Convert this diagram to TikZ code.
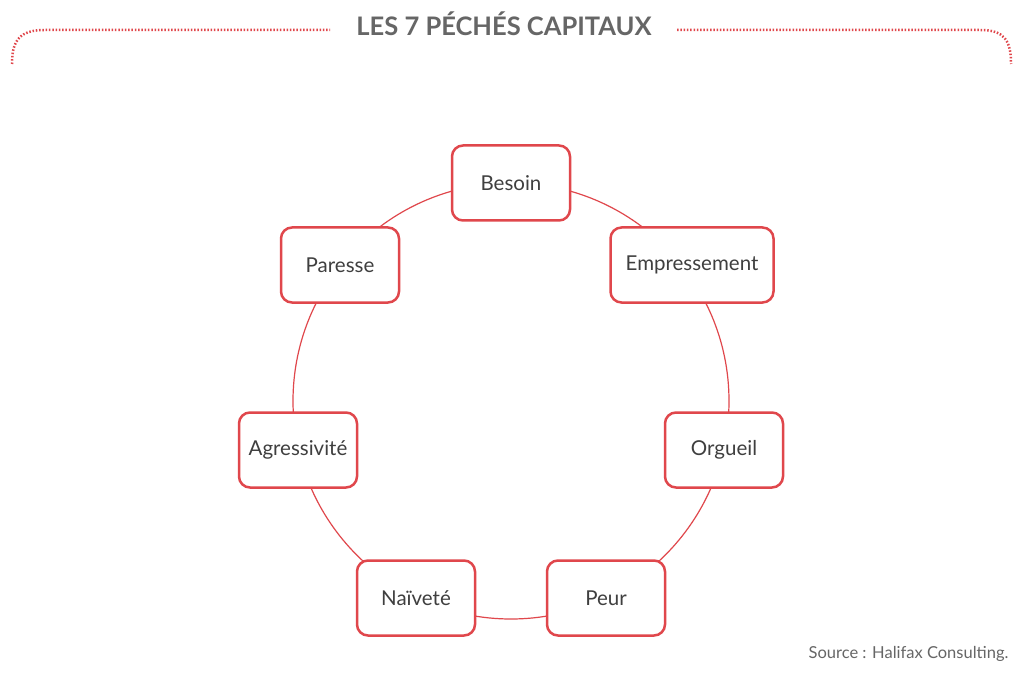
\documentclass[tikz,border=0pt]{standalone}
\usepackage{fontspec}
\setmainfont{Lato}
\begin{document}
\begin{tikzpicture}[x=1pt,y=-1pt,
  sin/.style={draw=red1,line width=2.5pt,rounded corners=11pt,fill=white,minimum height=75pt,minimum width=118pt,text=txt,font=\fontsize{20.5}{24}\selectfont},
  dots/.style={draw=red1,line width=2.5pt,dash pattern=on 1.5pt off 1.8pt}]
\definecolor{red1}{HTML}{E0474C}
\definecolor{txt}{HTML}{3F3F3F}
\definecolor{ttl}{HTML}{666666}
\useasboundingbox (0,0) rectangle (1024,684);
\fill[white] (0,0) rectangle (1024,684);
\node[font=\bfseries\fontsize{25.5}{30}\selectfont,text=ttl] (title) at (504,24) {LES 7 PÉCHÉS CAPITAUX};
\draw[dots] (12,64) .. controls (12,40) and (20,30) .. (45,30) -- (330,30);
\draw[dots] (677,30) -- (980,30) .. controls (1004,30) and (1011,40) .. (1011,64);
\draw[red1,line width=1.2pt] (511,401) circle (218);
\node[sin] (besoin) at (511,183) {Besoin};
\node[sin,minimum width=163pt] (emp) at (692,265) {Empressement};
\node[sin] (org) at (724,450) {Orgueil};
\node[sin] (peur) at (606,598) {Peur};
\node[sin] (nai) at (416,598) {Naïveté};
\node[sin] (agr) at (298,450) {Agressivité};
\node[sin] (par) at (340,265) {Paresse};
\node[anchor=east,text=ttl,font=\fontsize{16.5}{19}\selectfont] (src) at (1012,654) {Source : Halifax Consulting.};
\end{tikzpicture}
\end{document}
